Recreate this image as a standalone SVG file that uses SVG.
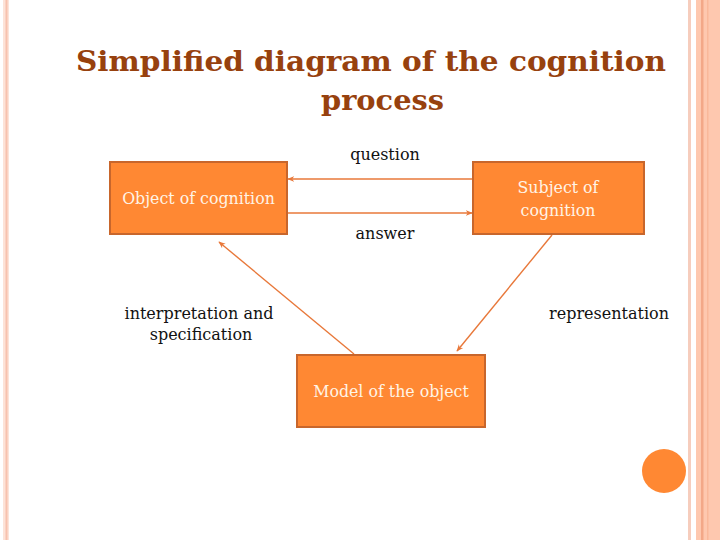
<svg xmlns="http://www.w3.org/2000/svg" width="720" height="540" viewBox="0 0 720 540">
<style>
.box{fill:#FF8833;stroke:#C8662C;stroke-width:2}
.bt{font-family:"DejaVu Serif","Liberation Serif",serif;font-size:15.8px;fill:#FFF4E6;text-anchor:middle}
.lb{font-family:"DejaVu Serif","Liberation Serif",serif;font-size:16px;fill:#111;text-anchor:middle}
.cn{stroke:#E8783A;stroke-width:1.4;fill:none;marker-end:url(#ah)}
</style>
<defs>
<marker id="ah" viewBox="0 0 10 10" refX="9" refY="5" markerWidth="7" markerHeight="7" orient="auto" markerUnits="userSpaceOnUse">
<path d="M0,1 L10,5 L0,9 L3,5 Z" fill="#E8783A"/>
</marker>
</defs>
<rect width="720" height="540" fill="#FFFFFF"/>
<g id="borders">
<rect x="3" y="0" width="6" height="540" fill="#FDE3D8"/>
<rect x="5.5" y="0" width="2" height="540" fill="#F7C2AE"/>
<rect x="688" y="0" width="3" height="540" fill="#F6CDBD"/>
<rect x="696" y="0" width="24" height="540" fill="#FEC8AF"/>
<rect x="701" y="0" width="2.5" height="540" fill="#F3A888"/>
<rect x="707" y="0" width="1.5" height="540" fill="#F9B89A"/>
</g>
<text x="371" y="71" font-family="DejaVu Serif,Liberation Serif,serif" font-weight="bold" font-size="27" fill="#97410E" text-anchor="middle" textLength="590" lengthAdjust="spacingAndGlyphs">Simplified diagram of the cognition</text>
<text x="382.5" y="110" font-family="DejaVu Serif,Liberation Serif,serif" font-weight="bold" font-size="28" fill="#97410E" text-anchor="middle" textLength="123" lengthAdjust="spacingAndGlyphs">process</text>
<g id="connectors">
<line class="cn" x1="473" y1="179" x2="288" y2="179"/>
<line class="cn" x1="288" y1="213" x2="472" y2="213"/>
<line class="cn" x1="354" y1="354" x2="219" y2="242"/>
<line class="cn" x1="552" y1="235" x2="457" y2="351"/>
</g>
<g id="node-object">
<rect class="box" x="110" y="162" width="177" height="72"/>
<text class="bt" x="198.5" y="204">Object of cognition</text>
</g>
<g id="node-subject">
<rect class="box" x="473" y="162" width="171" height="72"/>
<text class="bt" x="558" y="193">Subject of</text>
<text class="bt" x="558" y="216">cognition</text>
</g>
<g id="node-model">
<rect class="box" x="297" y="355" width="188" height="72"/>
<text class="bt" x="391" y="397">Model of the object</text>
</g>
<g id="labels">
<text class="lb" x="385" y="160">question</text>
<text class="lb" x="385" y="239">answer</text>
<text class="lb" x="199" y="319">interpretation and</text>
<text class="lb" x="201" y="340">specification</text>
<text class="lb" x="609" y="319">representation</text>
</g>
<circle cx="664" cy="471" r="22" fill="#FF8833"/>
</svg>
